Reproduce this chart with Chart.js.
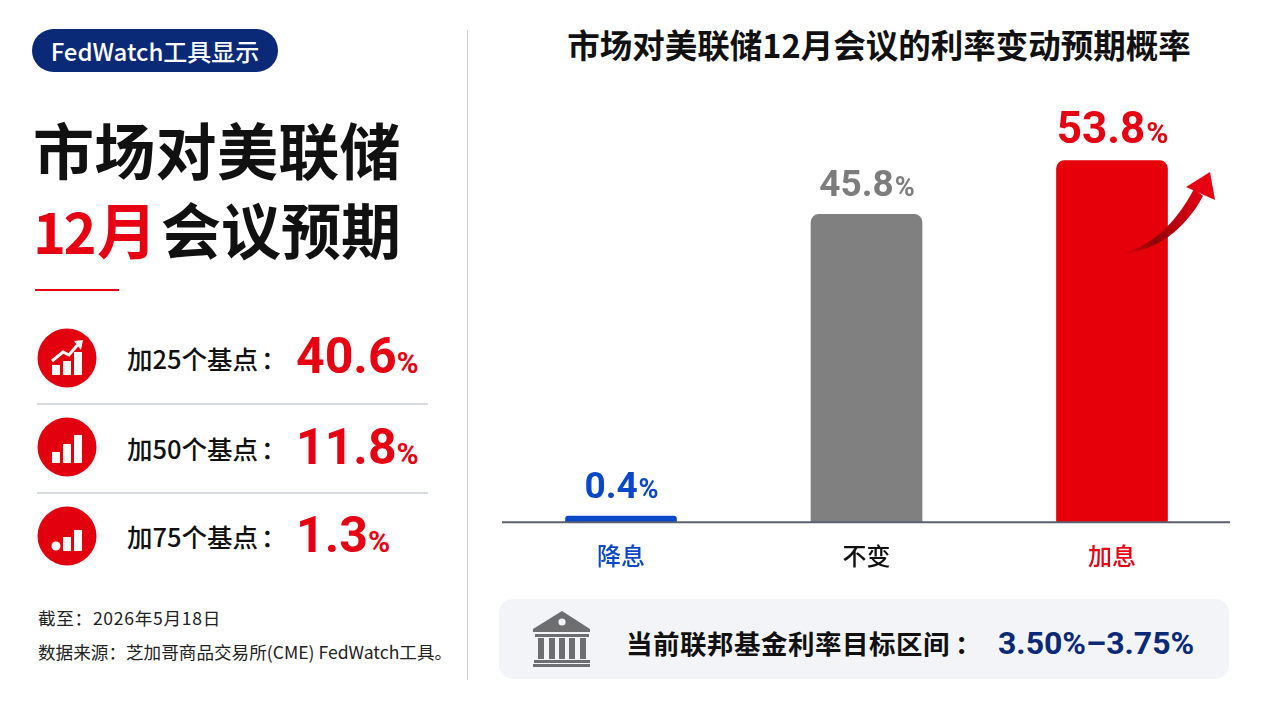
<!DOCTYPE html>
<html lang="zh"><head><meta charset="utf-8">
<script src="https://cdn.jsdelivr.net/npm/chart.js@4"></script>
<style>
html,body{margin:0;padding:0;background:#fff;width:1268px;height:714px;overflow:hidden}
body{position:relative;font-family:"Noto Sans CJK SC","Noto Sans",sans-serif;color:#111}
.a{position:absolute;white-space:nowrap}
.num{font-family:Roboto,"Noto Sans",sans-serif;font-weight:700}
.tc{font-family:"Noto Sans CJK TC"}
</style></head><body>
<div class="a" style="left:32px;top:29px;width:246px;height:43px;border-radius:22px;background:#0a2a78;color:#fff;font-size:24px;font-weight:500;line-height:43px;text-align:center">FedWatch工具显示</div>
<div class="a" style="left:33px;top:109px;font-size:61px;font-weight:700;line-height:80px;letter-spacing:0.3px">市场对美联储</div>
<div class="a" style="left:33px;top:188px;font-size:60px;font-weight:700;line-height:80px"><span style="color:#e60012"><span style="font-size:56px;letter-spacing:-2.5px">12</span><span style="font-size:60px;margin-left:3px">月</span></span><span style="margin-left:4px">会议预期</span></div>
<div class="a" style="left:35px;top:289px;width:84px;height:2px;background:#e60012"></div>
<div id="rows"></div>
<div class="a" style="left:38px;top:606px;font-size:17.6px;line-height:24px;color:#222;letter-spacing:0.7px">截至<span class="tc">：</span>2026年5月18日</div>
<div class="a" style="left:38px;top:640px;font-size:17.6px;line-height:24px;color:#222">数据来源<span class="tc">：</span>芝加哥商品交易所(CME) FedWatch工具。</div>
<div class="a" style="left:467px;top:30px;width:1px;height:650px;background:#cfd3d9"></div>
<div class="a" style="left:479px;top:21px;width:800px;text-align:center;font-size:32.5px;font-weight:700;line-height:46px">市场对美联储12月会议的利率变动预期概率</div>
<div class="a" style="left:499px;top:599px;width:730px;height:80px;border-radius:14px;background:#f3f4f7"></div>
<svg class="a" style="left:530px;top:608px" width="64" height="62" viewBox="0 0 64 62" fill="#6e6e70">
<path d="M32 3 L60 21 V24 H3 V21 Z"/><circle cx="32" cy="14" r="3.6" fill="#f3f4f7"/>
<rect x="5" y="26" width="54" height="3"/>
<rect x="8" y="30" width="6" height="21"/><rect x="19" y="30" width="6" height="21"/><rect x="29" y="30" width="6" height="21"/><rect x="39" y="30" width="6" height="21"/><rect x="50" y="30" width="6" height="21"/>
<rect x="4" y="52" width="56" height="3"/><rect x="3" y="56" width="57" height="3"/>
</svg>
<div class="a" style="left:626px;top:623px;font-size:26.5px;font-weight:700;line-height:40px;letter-spacing:0.5px">当前联邦基金利率目标区间<span class="tc" style="margin-left:5px">：</span></div>
<div class="a num" style="left:998px;top:622px;font-size:32px;line-height:42px;color:#0a2a78">3.50%–3.75%</div>
<canvas id="c" class="a" width="778" height="575" style="left:490px;top:20px"></canvas>
<svg class="a" style="left:1100px;top:160px" width="130" height="105" viewBox="1100 160 130 105">
<defs><linearGradient id="g" gradientUnits="userSpaceOnUse" x1="1122" y1="253" x2="1205" y2="185">
<stop offset="0" stop-color="#8f0008" stop-opacity="0.1"/><stop offset="0.3" stop-color="#8f0008"/><stop offset="0.6" stop-color="#c00010"/><stop offset="1" stop-color="#e60012"/></linearGradient></defs>
<path d="M1122 253 C1150 247 1175 225 1194 189 L1203 196 C1185 230 1155 252 1122 253 Z" fill="url(#g)"/>
<path d="M1210 172 L1186 187 L1215 200 Z" fill="#e60012"/>
</svg>
<script>
const categories = ["降息", "不变", "加息"];
const probabilities = [0.4, 45.8, 53.8];
const hikeLabels = ["加25个基点", "加50个基点", "加75个基点"];
const hikeValues = [40.6, 11.8, 1.3];

const barColors = ["#0b48c8", "#808080", "#e60009"];
const labelColors = ["#0b48c8", "#7d7d7d", "#e60012"];
const tickColors = ["#0b48c8", "#111111", "#e60012"];
const labelNumSizes = [37, 37, 44];
const labelPctSizes = [27, 27, 30];

const iconSvgs = [
 '<path d="M-15 17v-10h8v10zM-4 17v-14h8v14zM7 17v-23h8v23z" fill="#fff"/><path d="M-15 3l11-9 6 3 11-13" fill="none" stroke="#fff" stroke-width="3"/><path d="M16-18l-9 1 7 9z" fill="#fff"/>',
 '<path d="M-15 16v-11h8v11zM-4 16v-19h8v19zM7 16v-28h8v28z" fill="#fff"/>',
 '<circle cx="-11" cy="10" r="4.5" fill="#fff"/><path d="M-4 15v-14h8v14zM7 15v-21h8v21z" fill="#fff"/>'
];
const rowCircles = [358, 447, 536];
const rowLabelTops = [340, 430, 518];
const rowValueTops = [326, 417, 505];
document.getElementById("rows").innerHTML = hikeLabels.map((t, i) => {
  const y = rowCircles[i];
  return `<svg class="a" style="left:37px;top:${y-30}px" width="60" height="60" viewBox="-30 -30 60 60"><circle r="29.5" fill="#e2000f"/>${iconSvgs[i]}</svg>`
   + `<div class="a" style="left:127px;top:${rowLabelTops[i]}px;font-size:25.5px;font-weight:500;line-height:36px">${t}<span class="tc" style="margin-left:3px">：</span></div>`
   + `<div class="a num" style="left:296px;top:${rowValueTops[i]}px;font-size:50px;line-height:60px;color:#e60012">${hikeValues[i]}<span style="font-size:30px">%</span></div>`
   + (i < 2 ? `<div class="a" style="left:37px;top:${y+45}px;width:391px;height:2px;background:#d8dbe1"></div>` : "");
}).join("");

const decor = {
  id: "decor",
  afterDatasetsDraw(chart) {
    const { ctx } = chart;
    const bars = chart.getDatasetMeta(0).data;
    ctx.save();
    ctx.strokeStyle = "#596170"; ctx.lineWidth = 2;
    const y0 = chart.scales.y.getPixelForValue(0);
    ctx.beginPath(); ctx.moveTo(12, y0); ctx.lineTo(740, y0); ctx.stroke();
    ctx.textBaseline = "alphabetic"; ctx.textAlign = "left";
    bars.forEach((b, i) => {
      const num = probabilities[i].toFixed(1);
      ctx.font = `700 ${labelNumSizes[i]}px Roboto`;
      const w1 = ctx.measureText(num).width;
      ctx.font = `700 ${labelPctSizes[i]}px Roboto`;
      const w2 = ctx.measureText("%").width;
      const x = b.x - (w1 + w2) / 2, y = b.y - 18;
      ctx.fillStyle = labelColors[i];
      ctx.font = `700 ${labelNumSizes[i]}px Roboto`;
      ctx.fillText(num, x, y);
      ctx.font = `700 ${labelPctSizes[i]}px Roboto`;
      ctx.fillText("%", x + w1 + 1, y);
    });
    ctx.restore();
  }
};

new Chart(document.getElementById("c"), {
  type: "bar",
  data: { labels: categories, datasets: [{
    label: "预期概率",
    data: probabilities,
    backgroundColor: barColors,
    barThickness: 111,
    minBarLength: 6,
    borderRadius: { topLeft: 8, topRight: 8, bottomLeft: 0, bottomRight: 0 },
    borderSkipped: "bottom"
  }]},
  options: {
    responsive: false, animation: false, devicePixelRatio: 1,
    layout: { padding: { left: 8.25, right: 33.25, top: 99, bottom: 14 } },
    plugins: {
      legend: { display: false }, tooltip: { enabled: false }, title: { display: false }
    },
    scales: {
      x: { grid: { display: false }, border: { display: false },
        ticks: { color: tickColors, padding: 11, maxRotation: 0, autoSkip: false,
          font: { family: '"Noto Sans CJK SC"', size: 24, weight: "500" } } },
      y: { display: false, min: 0, max: 60 }
    }
  },
  plugins: [decor]
});
</script>
</body></html>
